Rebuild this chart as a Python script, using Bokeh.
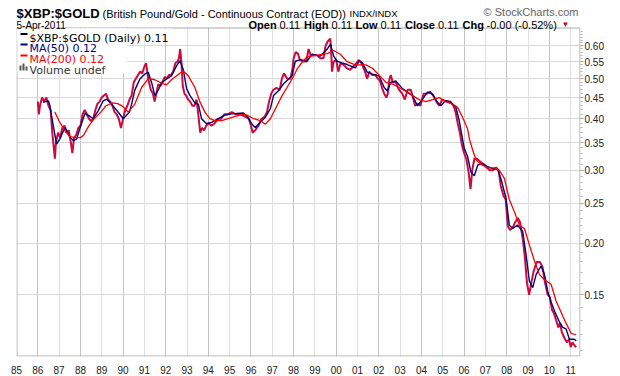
from bokeh.plotting import figure
from bokeh.models import FixedTicker, Grid, Label, BoxAnnotation, Range1d
from bokeh.embed import file_html
from bokeh.resources import INLINE

# ---------------- data ----------------
years = list(range(1985, 2012))
year_labels = ["85", "86", "87", "88", "89", "90", "91", "92", "93", "94",
               "95", "96", "97", "98", "99", "00", "01", "02", "03", "04",
               "05", "06", "07", "08", "09", "10", "11"]
y_ticks = [0.15, 0.20, 0.25, 0.30, 0.35, 0.40, 0.45, 0.50, 0.55, 0.60]
y_tick_labels = ["0.15", "0.20", "0.25", "0.30", "0.35", "0.40", "0.45",
                 "0.50", "0.55", "0.60"]
y_minor = [round(0.11 + 0.01 * i, 2) for i in range(55)]

price_t = [1986.00, 1986.05, 1986.10, 1986.20, 1986.30, 1986.40, 1986.50, 1986.60,
           1986.68, 1986.75, 1986.80, 1986.85, 1986.95, 1987.05, 1987.15, 1987.25,
           1987.35, 1987.45, 1987.55, 1987.62, 1987.70, 1987.80, 1987.90, 1988.00,
           1988.10, 1988.20, 1988.30, 1988.40, 1988.50, 1988.60, 1988.70, 1988.80,
           1988.90, 1989.00, 1989.10, 1989.20, 1989.30, 1989.40, 1989.50, 1989.60,
           1989.70, 1989.80, 1989.90, 1990.00, 1990.10, 1990.20, 1990.30, 1990.40,
           1990.50, 1990.60, 1990.70, 1990.80, 1990.90, 1991.00, 1991.08, 1991.18,
           1991.30, 1991.40, 1991.48, 1991.56, 1991.65, 1991.75, 1991.85, 1991.95,
           1992.05, 1992.15, 1992.25, 1992.35, 1992.45, 1992.55, 1992.62, 1992.68,
           1992.74, 1992.80, 1992.88, 1992.96, 1993.05, 1993.15, 1993.25, 1993.35,
           1993.45, 1993.55, 1993.62, 1993.70, 1993.80, 1993.90, 1994.00, 1994.15,
           1994.30, 1994.45, 1994.60, 1994.75, 1994.90, 1995.10, 1995.30, 1995.50,
           1995.70, 1995.90, 1996.00, 1996.08, 1996.20, 1996.35, 1996.50, 1996.65,
           1996.75, 1996.85, 1996.95, 1997.05, 1997.20, 1997.35, 1997.45, 1997.55,
           1997.70, 1997.85, 1997.95, 1998.00, 1998.10, 1998.20, 1998.30, 1998.45,
           1998.60, 1998.70, 1998.80, 1998.95, 1999.10, 1999.25, 1999.40, 1999.50,
           1999.60, 1999.72, 1999.76, 1999.80, 1999.88, 2000.00, 2000.10, 2000.20,
           2000.35, 2000.50, 2000.65, 2000.80, 2000.95, 2001.05, 2001.15, 2001.25,
           2001.35, 2001.45, 2001.55, 2001.70, 2001.85, 2001.95, 2002.05, 2002.15,
           2002.25, 2002.35, 2002.42, 2002.50, 2002.56, 2002.65, 2002.80, 2002.95,
           2003.10, 2003.22, 2003.35, 2003.50, 2003.60, 2003.70, 2003.80, 2003.95,
           2004.10, 2004.25, 2004.40, 2004.55, 2004.70, 2004.83, 2004.98, 2005.15,
           2005.35, 2005.50, 2005.60, 2005.70, 2005.80, 2005.90, 2006.00, 2006.10,
           2006.20, 2006.30, 2006.38, 2006.48, 2006.60, 2006.75, 2006.90, 2007.05,
           2007.20, 2007.35, 2007.50, 2007.62, 2007.72, 2007.85, 2007.95, 2008.05,
           2008.15, 2008.28, 2008.40, 2008.52, 2008.62, 2008.75, 2008.85, 2008.95,
           2009.05, 2009.15, 2009.25, 2009.40, 2009.55, 2009.68, 2009.80, 2009.92,
           2010.02, 2010.12, 2010.22, 2010.32, 2010.42, 2010.50, 2010.58, 2010.70,
           2010.82, 2010.92, 2011.00, 2011.08, 2011.18, 2011.26]
price_v = [0.440, 0.410, 0.430, 0.450, 0.440, 0.450, 0.430, 0.420,
           0.370, 0.340, 0.320, 0.350, 0.370, 0.360, 0.380, 0.385,
           0.370, 0.375, 0.350, 0.330, 0.360, 0.365, 0.380, 0.385,
           0.410, 0.420, 0.410, 0.400, 0.395, 0.400, 0.420, 0.435,
           0.440, 0.450, 0.455, 0.460, 0.445, 0.440, 0.430, 0.415,
           0.410, 0.400, 0.380, 0.400, 0.420, 0.430, 0.445, 0.455,
           0.490, 0.500, 0.510, 0.520, 0.515, 0.535, 0.545, 0.500,
           0.470, 0.460, 0.440, 0.460, 0.485, 0.480, 0.490, 0.505,
           0.500, 0.510, 0.510, 0.520, 0.545, 0.550, 0.560, 0.590,
           0.545, 0.480, 0.460, 0.455, 0.445, 0.440, 0.430, 0.430,
           0.445, 0.400, 0.370, 0.380, 0.375, 0.385, 0.390, 0.385,
           0.390, 0.400, 0.400, 0.410, 0.410, 0.415, 0.410, 0.410,
           0.405, 0.400, 0.385, 0.370, 0.375, 0.385, 0.400, 0.405,
           0.415, 0.440, 0.460, 0.470, 0.475, 0.470, 0.500, 0.515,
           0.500, 0.500, 0.530, 0.560, 0.580, 0.575, 0.555, 0.550,
           0.550, 0.590, 0.570, 0.570, 0.570, 0.560, 0.560, 0.600,
           0.615, 0.625, 0.590, 0.520, 0.550, 0.555, 0.520, 0.545,
           0.540, 0.530, 0.525, 0.535, 0.545, 0.555, 0.550, 0.535,
           0.520, 0.500, 0.520, 0.510, 0.510, 0.500, 0.495, 0.475,
           0.460, 0.450, 0.460, 0.500, 0.510, 0.490, 0.490, 0.470,
           0.460, 0.445, 0.470, 0.470, 0.450, 0.430, 0.435, 0.430,
           0.460, 0.460, 0.465, 0.455, 0.440, 0.430, 0.445, 0.440,
           0.440, 0.430, 0.415, 0.390, 0.370, 0.345, 0.330, 0.320,
           0.300, 0.270, 0.300, 0.320, 0.320, 0.315, 0.310, 0.305,
           0.300, 0.300, 0.305, 0.300, 0.275, 0.260, 0.255, 0.220,
           0.215, 0.218, 0.225, 0.230, 0.225, 0.205, 0.185, 0.160,
           0.150, 0.160, 0.170, 0.180, 0.180, 0.175, 0.160, 0.150,
           0.148, 0.138, 0.135, 0.130, 0.125, 0.128, 0.122, 0.118,
           0.115, 0.117, 0.112, 0.115, 0.113, 0.112]

ma50_t = [1986.25, 1986.49, 1986.56, 1986.72, 1986.88, 1987.03, 1987.27, 1987.50,
          1987.66, 1987.82, 1987.97, 1988.21, 1988.36, 1988.60, 1988.83, 1989.07,
          1989.23, 1989.46, 1989.69, 1990.01, 1990.16, 1990.30, 1990.40, 1990.55,
          1990.79, 1991.02, 1991.18, 1991.34, 1991.49, 1991.65, 1991.80, 1992.04,
          1992.27, 1992.51, 1992.67, 1992.82, 1992.98, 1993.14, 1993.37, 1993.53,
          1993.68, 1993.92, 1994.15, 1994.47, 1994.78, 1995.09, 1995.64, 1995.81,
          1996.05, 1996.20, 1996.44, 1996.67, 1996.91, 1997.06, 1997.30, 1997.53,
          1997.77, 1997.93, 1998.08, 1998.32, 1998.63, 1998.86, 1999.26, 1999.57,
          1999.73, 1999.88, 2000.04, 2000.27, 2000.51, 2000.90, 2001.07, 2001.23,
          2001.46, 2001.70, 2002.01, 2002.25, 2002.40, 2002.56, 2002.79, 2003.11,
          2003.34, 2003.58, 2003.81, 2004.05, 2004.28, 2004.52, 2004.75, 2004.91,
          2005.14, 2005.38, 2005.61, 2005.77, 2006.00, 2006.17, 2006.32, 2006.48,
          2006.64, 2006.87, 2007.11, 2007.42, 2007.57, 2007.73, 2007.97, 2008.12,
          2008.28, 2008.51, 2008.75, 2008.91, 2009.06, 2009.22, 2009.38, 2009.61,
          2009.77, 2009.92, 2010.08, 2010.24, 2010.47, 2010.63, 2010.78, 2010.94,
          2011.17, 2011.26]
ma50_v = [0.438, 0.442, 0.432, 0.386, 0.347, 0.357, 0.381, 0.362,
          0.354, 0.357, 0.378, 0.412, 0.408, 0.400, 0.418, 0.442,
          0.446, 0.434, 0.420, 0.400, 0.408, 0.415, 0.434, 0.469,
          0.499, 0.513, 0.518, 0.489, 0.455, 0.469, 0.489, 0.499,
          0.508, 0.537, 0.553, 0.527, 0.473, 0.455, 0.437, 0.434,
          0.400, 0.389, 0.392, 0.400, 0.408, 0.411, 0.413, 0.406,
          0.388, 0.381, 0.392, 0.403, 0.423, 0.455, 0.468, 0.486,
          0.499, 0.508, 0.551, 0.556, 0.551, 0.573, 0.567, 0.589,
          0.606, 0.567, 0.551, 0.546, 0.541, 0.531, 0.551, 0.546,
          0.518, 0.513, 0.508, 0.476, 0.467, 0.490, 0.494, 0.473,
          0.464, 0.455, 0.430, 0.446, 0.464, 0.459, 0.438, 0.430,
          0.443, 0.438, 0.427, 0.396, 0.340, 0.323, 0.297, 0.291,
          0.309, 0.312, 0.306, 0.302, 0.302, 0.286, 0.256, 0.221,
          0.217, 0.221, 0.213, 0.187, 0.162, 0.156, 0.168, 0.176,
          0.168, 0.153, 0.144, 0.137, 0.129, 0.125, 0.124, 0.117,
          0.117, 0.116]

ma200_t = [1986.80, 1987.00, 1987.25, 1987.50, 1987.75, 1988.00, 1988.15, 1988.40,
           1988.65, 1988.95, 1989.20, 1989.50, 1989.75, 1990.00, 1990.24, 1990.55,
           1990.87, 1991.18, 1991.49, 1991.80, 1992.04, 1992.27, 1992.59, 1992.82,
           1993.06, 1993.37, 1993.60, 1993.84, 1994.07, 1994.31, 1994.62, 1994.93,
           1995.25, 1995.64, 1995.81, 1996.13, 1996.44, 1996.67, 1996.91, 1997.22,
           1997.46, 1997.69, 1997.93, 1998.16, 1998.40, 1998.63, 1999.10, 1999.57,
           1999.88, 2000.19, 2000.51, 2000.90, 2001.39, 2001.70, 2002.01, 2002.33,
           2002.64, 2002.95, 2003.26, 2003.58, 2003.89, 2004.20, 2004.52, 2004.83,
           2005.14, 2005.45, 2005.69, 2005.92, 2006.16, 2006.25, 2006.40, 2006.56,
           2006.79, 2007.11, 2007.42, 2007.65, 2007.89, 2008.12, 2008.36, 2008.59,
           2008.83, 2009.06, 2009.30, 2009.53, 2009.77, 2010.08, 2010.31, 2010.55,
           2010.78, 2011.02, 2011.25]
ma200_v = [0.415, 0.395, 0.375, 0.362, 0.360, 0.360, 0.365, 0.385,
           0.400, 0.415, 0.430, 0.437, 0.435, 0.428, 0.415, 0.434,
           0.476, 0.500, 0.497, 0.488, 0.483, 0.497, 0.512, 0.522,
           0.508, 0.476, 0.440, 0.415, 0.400, 0.396, 0.396, 0.400,
           0.405, 0.410, 0.408, 0.400, 0.396, 0.388, 0.400, 0.430,
           0.455, 0.476, 0.499, 0.527, 0.548, 0.565, 0.570, 0.575,
           0.585, 0.573, 0.550, 0.540, 0.540, 0.530, 0.510, 0.490,
           0.485, 0.476, 0.466, 0.455, 0.445, 0.440, 0.445, 0.450,
           0.440, 0.434, 0.426, 0.404, 0.378, 0.357, 0.336, 0.318,
           0.310, 0.304, 0.304, 0.300, 0.287, 0.255, 0.238, 0.221,
           0.217, 0.198, 0.181, 0.168, 0.163, 0.159, 0.145, 0.136,
           0.128, 0.121, 0.120]

# ---------------- figure ----------------
# The frame runs from the top of the canvas; the top 29 px hold the header
# (covered with white) and the visible chart box is drawn as an annotation.
FRAME_LEFT, FRAME_BOTTOM = 16, 358   # page pixel position of the frame corner
CHART_TOP, CHART_RIGHT = 29, 580

p = figure(width=620, height=376,
           x_range=Range1d(1985.0, 2011.46), y_range=Range1d(0.1063, 0.773),
           y_axis_type="log", y_axis_location="right",
           output_backend="svg", toolbar_location=None,
           min_border_left=16, min_border_right=40,
           min_border_top=0, min_border_bottom=18)
p.background_fill_color = "white"
p.border_fill_color = "white"
p.outline_line_color = None

# axes
p.xaxis.ticker = FixedTicker(ticks=years, minor_ticks=[])
p.xaxis.major_label_overrides = {y: l for y, l in zip(years, year_labels)}
p.xaxis.axis_line_color = None
p.xaxis.major_tick_line_color = None
p.xaxis.minor_tick_line_color = None
p.xaxis.major_label_standoff = 3
p.xaxis.major_label_text_font = "Liberation Sans"
p.xaxis.major_label_text_font_size = "10px"
p.xaxis.major_label_text_color = "#222222"

p.yaxis.ticker = FixedTicker(ticks=y_ticks, minor_ticks=y_minor)
p.yaxis.major_label_overrides = {v: l for v, l in zip(y_ticks, y_tick_labels)}
p.yaxis.axis_line_color = None
p.yaxis.major_tick_line_color = "#909090"
p.yaxis.major_tick_out = 3
p.yaxis.major_tick_in = 0
p.yaxis.minor_tick_line_color = "#b0b0b0"
p.yaxis.minor_tick_out = 2
p.yaxis.minor_tick_in = 0
p.yaxis.major_label_standoff = 1
p.yaxis.major_label_text_font = "Liberation Sans"
p.yaxis.major_label_text_font_size = "10px"
p.yaxis.major_label_text_color = "#222222"

# grids: even years darker, odd years lighter
p.xgrid.ticker = FixedTicker(ticks=[y for y in years if y % 2 == 0])
p.xgrid.grid_line_color = "#c4c4c4"
p.add_layout(Grid(dimension=0, ticker=FixedTicker(ticks=[y for y in years if y % 2 == 1]),
                  grid_line_color="#e0e0e0"))
p.ygrid.grid_line_color = "#d8d8d8"

# series
p.line(price_t, price_v, line_color="#cc0a3c", line_width=2.0)
p.line(ma50_t, ma50_v, line_color="#000080", line_width=1.4)
p.line(ma200_t, ma200_v, line_color="#ff0000", line_width=1.3)


def sx(px):
    return px - FRAME_LEFT


def sy(py):
    return FRAME_BOTTOM - py


def box(l, r, t, b, color, line=None):
    p.add_layout(BoxAnnotation(left=sx(l), right=sx(r), top=sy(t), bottom=sy(b),
                               left_units="screen", right_units="screen",
                               top_units="screen", bottom_units="screen",
                               fill_color=color if color else "white",
                               fill_alpha=1.0 if color else 0.0,
                               line_color=line if line else "white",
                               line_alpha=1.0 if line else 0.0, line_width=1))


def lab(text, px, py, size, bold=False, color="#000000", font="Liberation Sans",
        align="left"):
    p.add_layout(Label(x=sx(px), y=sy(py), x_units="screen", y_units="screen",
                       text=text, text_font=font, text_font_size=size,
                       text_font_style="bold" if bold else "normal",
                       text_color=color, text_align=align,
                       text_baseline="alphabetic"))


# header area (white) and the chart box outline
box(FRAME_LEFT, CHART_RIGHT + 2, 0, CHART_TOP, "white")
box(FRAME_LEFT + 0.5, CHART_RIGHT - 0.5, CHART_TOP + 0.5, FRAME_BOTTOM - 0.5, None,
    line="#a8a8a8")

# legend background
box(17, 172, 30, 42, "white")
box(17, 126, 30, 75, "white")

# legend markers
box(20, 27, 34.5, 36.5, "#000000")
box(20, 27, 45, 47, "#000080")
box(20, 27, 56, 58, "#ff0000")
box(19, 21, 67, 72, "#555555")
box(22, 24, 65, 72, "#555555")
box(25, 27, 68, 72, "#555555")

# legend texts
lab("$XBP:$GOLD (Daily) 0.11", 29, 39.5, "11px", font="DejaVu Sans")
lab("MA(50) 0.12", 29, 50, "11px", color="#000080", font="DejaVu Sans")
lab("MA(200) 0.12", 29, 61, "11px", color="#ff0000", font="DejaVu Sans")
lab("Volume undef", 29, 72, "11px", color="#333333", font="DejaVu Sans")

# header
lab("$XBP:$GOLD", 16, 15, "13px", bold=True)
lab("(British Pound/Gold - Continuous Contract (EOD))", 102, 15, "11px")
lab("INDX/INDX", 349, 14.5, "9.5px")
lab("\u00a9 StockCharts.com", 578, 13.5, "11px", color="#666666", align="right")
lab("5-Apr-2011", 16, 26.5, "10px")

lab("Open", 248, 26.5, "11px", bold=True)
lab("0.11", 279, 26.5, "11px")
lab("High", 303.5, 26.5, "11px", bold=True)
lab("0.11", 331, 26.5, "11px")
lab("Low", 355, 26.5, "11px", bold=True)
lab("0.11", 380, 26.5, "11px")
lab("Close", 404.5, 26.5, "11px", bold=True)
lab("0.11", 437.5, 26.5, "11px")
lab("Chg", 462, 26.5, "11px", bold=True)
lab("-0.00 (-0.52%)", 486, 26.5, "11px")
lab("\u25bc", 561, 26, "8px", color="#cc0033")

open("out.html", "w").write(file_html(p, INLINE))
